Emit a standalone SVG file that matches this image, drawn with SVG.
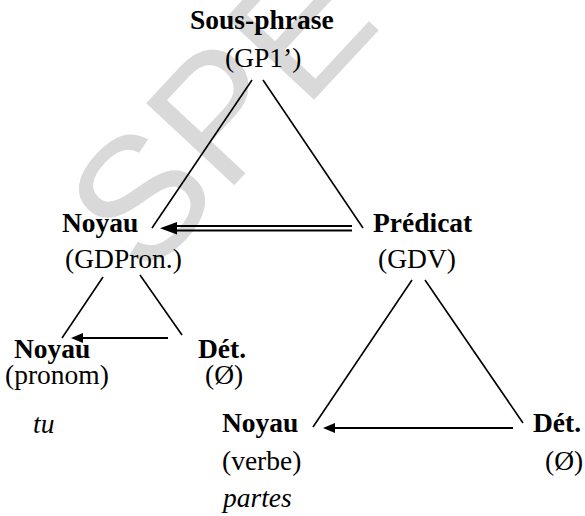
<svg xmlns="http://www.w3.org/2000/svg" width="585" height="516" viewBox="0 0 585 516">
  <style>
    .t { fill: #000; }
    .b { font-weight: bold; }
    .i { font-style: italic; }
    .edge { stroke: #000; stroke-width: 1.6; fill: none; }
    .arr { stroke: #000; stroke-width: 2.2; fill: none; }
    .dbl { stroke: #000; stroke-width: 1.8; fill: none; }
    .wm { fill: #d9d9d9; }
  </style>
  <defs>
    <marker id="head" markerUnits="userSpaceOnUse" markerWidth="12" markerHeight="10" refX="0" refY="5" orient="auto">
      <path d="M0,0 L12,5 L0,10 Z" fill="#000"/>
    </marker>
  </defs>
  <rect width="585" height="516" fill="#fff"/>
  <text class="wm" font-family="Liberation Sans, Arial, sans-serif" font-size="175" transform="translate(145,281) rotate(-47)">SPE</text>

  <g id="connectors">
    <line class="edge" x1="252" y1="80" x2="152" y2="228"/>
    <line class="edge" x1="263" y1="80" x2="363" y2="228"/>
    <line class="dbl" x1="352" y1="226" x2="174" y2="226"/>
    <line class="dbl" x1="352" y1="230.5" x2="174" y2="230.5"/>
    <polygon points="160,228.2 177,222 177,234.5" fill="#000"/>
    <line class="edge" x1="103" y1="277" x2="62" y2="338"/>
    <line class="edge" x1="140" y1="275" x2="182" y2="335"/>
    <line class="arr" x1="168" y1="338" x2="83" y2="338" marker-end="url(#head)"/>
    <line class="edge" x1="412" y1="280" x2="313" y2="427"/>
    <line class="edge" x1="425" y1="280" x2="523" y2="423"/>
    <line class="arr" x1="513" y1="428" x2="335" y2="428" marker-end="url(#head)"/>
  </g>

  <g font-family="Liberation Serif, Tinos, Times New Roman, DejaVu Serif, serif" font-size="27.5">
    <g id="sous-phrase">
      <text class="t b" x="190" y="29">Sous-phrase</text>
      <text class="t" x="225" y="67">(GP1’)</text>
    </g>
    <g id="noyau-gdpron">
      <text class="t b" x="62" y="232">Noyau</text>
      <text class="t" x="65" y="268">(GDPron.)</text>
    </g>
    <g id="predicat">
      <text class="t b" x="373" y="232">Prédicat</text>
      <text class="t" x="378" y="268">(GDV)</text>
    </g>
    <g id="noyau-pronom">
      <text class="t b" x="14" y="358">Noyau</text>
      <text class="t" x="5" y="384">(pronom)</text>
      <text class="t i" x="33" y="433">tu</text>
    </g>
    <g id="det-pron">
      <text class="t b" x="198" y="358">Dét.</text>
      <text class="t" x="205" y="384">(Ø)</text>
    </g>
    <g id="noyau-verbe">
      <text class="t b" x="222" y="432">Noyau</text>
      <text class="t" x="222" y="470">(verbe)</text>
      <text class="t i" x="223" y="507">partes</text>
    </g>
    <g id="det-verbe">
      <text class="t b" x="533" y="432">Dét.</text>
      <text class="t" x="545" y="470">(Ø)</text>
    </g>
  </g>
</svg>
